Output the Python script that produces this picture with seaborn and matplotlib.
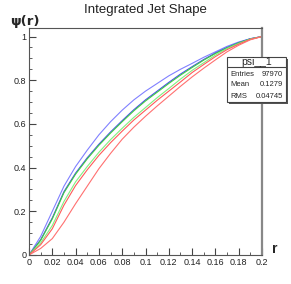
import numpy as np
import pandas as pd
import matplotlib
matplotlib.use("Agg")
import matplotlib.pyplot as plt
from matplotlib.patches import Rectangle
from matplotlib.lines import Line2D
import seaborn as sns

r_vals = [0.00, 0.01, 0.02, 0.03, 0.04, 0.05, 0.06, 0.07, 0.08, 0.09, 0.10,
          0.11, 0.12, 0.13, 0.14, 0.15, 0.16, 0.17, 0.18, 0.19, 0.20]

# psi(r) for each histogram
psi_blue_1 = [0.0, 0.085, 0.20, 0.315, 0.405, 0.48, 0.55, 0.61, 0.663, 0.71, 0.75,
              0.785, 0.82, 0.85, 0.877, 0.905, 0.93, 0.955, 0.975, 0.99, 1.0]
psi_blue_2 = [0.0, 0.07, 0.17, 0.29, 0.375, 0.445, 0.507, 0.563, 0.615, 0.665, 0.71,
              0.75, 0.79, 0.828, 0.862, 0.895, 0.925, 0.95, 0.972, 0.99, 1.0]
psi_green_1 = [0.0, 0.067, 0.165, 0.285, 0.37, 0.44, 0.502, 0.558, 0.61, 0.66, 0.705,
               0.745, 0.785, 0.823, 0.858, 0.892, 0.922, 0.948, 0.971, 0.989, 1.0]
psi_green_2 = [0.0, 0.055, 0.135, 0.245, 0.335, 0.405, 0.47, 0.528, 0.58, 0.63, 0.675,
               0.72, 0.762, 0.805, 0.845, 0.88, 0.915, 0.945, 0.968, 0.988, 1.0]
psi_red_1 = [0.0, 0.047, 0.12, 0.228, 0.318, 0.39, 0.456, 0.514, 0.567, 0.618, 0.663,
             0.708, 0.75, 0.792, 0.835, 0.872, 0.908, 0.94, 0.965, 0.987, 1.0]
psi_red_2 = [0.0, 0.03, 0.075, 0.15, 0.235, 0.315, 0.395, 0.465, 0.53, 0.585, 0.635,
             0.682, 0.727, 0.772, 0.815, 0.855, 0.893, 0.93, 0.96, 0.985, 1.0]

curve_names = ["blue_1", "blue_2", "green_1", "green_2", "red_1", "red_2"]
curve_colors = {"blue_1": "#8080ff", "blue_2": "#4545f0", "green_1": "#40d040",
                "green_2": "#80f080", "red_1": "#ff5a5a", "red_2": "#ff7070"}

stats_title = "psi__1"
stats_labels = ["Entries", "Mean", "RMS"]
stats_values = ["97970", "0.1279", "0.04745"]

x_ticks = [0, 0.02, 0.04, 0.06, 0.08, 0.1, 0.12, 0.14, 0.16, 0.18, 0.2]
x_tick_labels = ["0", "0.02", "0.04", "0.06", "0.08", "0.1", "0.12", "0.14",
                 "0.16", "0.18", "0.2"]
y_ticks = [0, 0.2, 0.4, 0.6, 0.8, 1.0]
y_tick_labels = ["0", "0.2", "0.4", "0.6", "0.8", "1"]

all_psi = [psi_blue_1, psi_blue_2, psi_green_1, psi_green_2, psi_red_1, psi_red_2]
df = pd.DataFrame({
    "r": r_vals * len(curve_names),
    "psi": sum(all_psi, []),
    "curve": sum([[n] * len(r_vals) for n in curve_names], []),
})

sns.set_style("ticks")
plt.rcParams["font.family"] = ["Liberation Sans", "DejaVu Sans"]

fig = plt.figure(figsize=(2.91, 2.84), dpi=100)
ax = fig.add_axes([29 / 291, 1 - 255 / 284, 233 / 291, 227 / 284])

sns.lineplot(data=df, x="r", y="psi", hue="curve", palette=curve_colors,
             hue_order=curve_names, legend=False, linewidth=0.8, ax=ax)

ax.set_xlim(0, 0.2)
ax.set_ylim(0, 1.039)
ax.set_xticks(x_ticks)
ax.set_xticklabels(x_tick_labels)
ax.set_yticks(y_ticks)
ax.set_yticklabels(y_tick_labels)
ax.set_xticks(np.arange(0, 0.2001, 0.01), minor=True)
ax.set_yticks(np.arange(0, 1.0001, 0.05), minor=True)
ax.tick_params(which="both", direction="in", labelsize=6.5, color="#444444",
               labelcolor="#222222", pad=2)
ax.tick_params(which="major", length=5, width=0.8)
ax.tick_params(which="minor", length=2.5, width=0.6)
ax.set_xlabel("")
ax.set_ylabel("")
for side in ["left", "bottom", "right", "top"]:
    ax.spines[side].set_visible(True)
    ax.spines[side].set_color("#555555")
    ax.spines[side].set_linewidth(0.8)
ax.spines["right"].set_linewidth(1.6)
ax.spines["right"].set_color("#888888")

fig.text(0.5, 1 - 10 / 284, "Integrated Jet Shape", ha="center", va="center",
         fontsize=9.5, color="#222222")
fig.text(10 / 291, 1 - 21 / 284, "ψ(r)", ha="left", va="center",
         fontsize=9.5, fontweight="bold", family=["DejaVu Sans"])
fig.text(272 / 291, 1 - 249 / 284, "r", ha="left", va="center",
         fontsize=10, fontweight="bold")

# stats box
bx0, bx1 = 227 / 291, 286 / 291
by_top, by_bot = 1 - 57 / 284, 1 - 102 / 284
by_div = 1 - 67 / 284
fig.patches.append(Rectangle((bx0 + 1.5 / 291, by_bot - 1.5 / 284), bx1 - bx0, by_top - by_bot,
                             transform=fig.transFigure, facecolor="#555555",
                             edgecolor="none", zorder=5))
fig.patches.append(Rectangle((bx0, by_bot), bx1 - bx0, by_top - by_bot,
                             transform=fig.transFigure, facecolor="white",
                             edgecolor="#444444", linewidth=0.8, zorder=6))
fig.lines.append(Line2D([bx0, bx1], [by_div, by_div], transform=fig.transFigure,
                        color="#444444", linewidth=0.8, zorder=7))
fig.text((bx0 + bx1) / 2, (by_top + by_div) / 2, stats_title, ha="center",
         va="center", fontsize=7.5, zorder=8)
row_y = [74, 85, 96]
for lab, val, yy in zip(stats_labels, stats_values, row_y):
    fig.text(230 / 291, 1 - yy / 284, lab, ha="left", va="center", fontsize=5.5, zorder=8)
    fig.text(283 / 291, 1 - yy / 284, val, ha="right", va="center", fontsize=5.5, zorder=8)

fig.savefig("out.png", dpi=100)
